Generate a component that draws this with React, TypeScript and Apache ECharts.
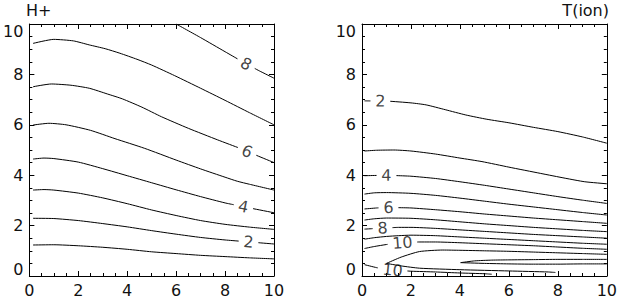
import React, { useEffect, useRef } from 'react';
import * as echarts from 'echarts';

type Pt = [number, number];

// ---------- H+ contour lines (levels 1..8) ----------
const hp1: Pt[] = [[0.15, 1.23], [1, 1.24], [2, 1.2], [3, 1.14], [4, 1.06], [5, 0.96], [6, 0.89], [7, 0.82], [8, 0.77], [9, 0.72], [10, 0.68]];
const hp2: Pt[] = [[0.15, 2.29], [1, 2.28], [2, 2.2], [3, 2.08], [4, 1.95], [5, 1.8], [6, 1.66], [7, 1.53], [8, 1.43], [9, 1.35], [10, 1.27]];
const hp3: Pt[] = [[0.15, 3.41], [0.6, 3.43], [1, 3.41], [2, 3.29], [3, 3.1], [4, 2.87], [5, 2.62], [6, 2.4], [7, 2.2], [8, 2.05], [9, 1.94], [10, 1.85]];
const hp4: Pt[] = [[0.15, 4.64], [0.6, 4.68], [1, 4.66], [2, 4.52], [3, 4.26], [4, 3.98], [5, 3.7], [6, 3.42], [7, 3.15], [8, 2.9], [9, 2.7], [10, 2.51]];
const hp5: Pt[] = [[0.15, 5.99], [0.8, 6.06], [1.5, 6.0], [2.5, 5.78], [3.5, 5.45], [4.7, 5.07], [6, 4.6], [7, 4.25], [8, 3.92], [8.5, 3.76], [9, 3.64], [10, 3.41]];
const hp6: Pt[] = [[0.15, 7.51], [0.9, 7.62], [1.7, 7.57], [2.45, 7.45], [3.2, 7.22], [3.8, 7.03], [4.6, 6.7], [5.4, 6.32], [6.5, 5.86], [7.7, 5.4], [8.6, 5.07], [9.3, 4.78], [10, 4.5]];
const hp7: Pt[] = [[0.15, 9.23], [1.0, 9.39], [1.8, 9.33], [2.45, 9.17], [3.1, 9.02], [3.7, 8.84], [4.4, 8.6], [5, 8.37], [5.94, 7.95], [7, 7.45], [8, 6.97], [9, 6.48], [10, 6.0]];
const hp8: Pt[] = [[6.0, 10], [7, 9.46], [8, 8.9], [8.86, 8.42], [9.4, 8.14], [10, 7.85]];
const hPlusLines: Pt[][] = [hp1, hp2, hp3, hp4, hp5, hp6, hp7, hp8];
// labels: which line, where along x, text
const hPlusLabelLine = [1, 3, 5, 7];
const hPlusLabelX = [8.96, 8.75, 8.9, 8.86];
const hPlusLabelText = ['2', '4', '6', '8'];

// ---------- T(ion) contour lines ----------
const ti2: Pt[] = [[0.1, 6.95], [1.07, 6.94], [2, 6.87], [2.62, 6.79], [3.4, 6.6], [4.24, 6.39], [5.1, 6.22], [6, 6.08], [7, 5.9], [8, 5.73], [9, 5.52], [10, 5.27]];
const ti3: Pt[] = [[0.1, 4.96], [0.6, 4.99], [1.3, 5.0], [2, 4.96], [3, 4.84], [4, 4.68], [4.9, 4.54], [6, 4.32], [7.3, 4.07], [8.3, 3.88], [9.1, 3.74], [10, 3.66]];
const ti4: Pt[] = [[0.1, 3.98], [1, 4.0], [2, 3.96], [3, 3.87], [4, 3.74], [5, 3.6], [6, 3.45], [7, 3.3], [8, 3.15], [9, 3.01], [10, 2.88]];
const ti5: Pt[] = [[0.1, 3.25], [0.5, 3.3], [1, 3.31], [2, 3.28], [3, 3.2], [4, 3.09], [5, 2.97], [6, 2.85], [7, 2.74], [8, 2.63], [9, 2.52], [10, 2.42]];
const ti6: Pt[] = [[0.1, 2.66], [0.6, 2.7], [1.1, 2.72], [2, 2.7], [3, 2.63], [4, 2.55], [5, 2.46], [6, 2.38], [7, 2.3], [8, 2.23], [9, 2.16], [10, 2.09]];
const ti7: Pt[] = [[0.1, 2.22], [0.5, 2.27], [1, 2.3], [2, 2.29], [3, 2.23], [4, 2.15], [5, 2.07], [6, 2.0], [7, 1.93], [8, 1.87], [9, 1.81], [10, 1.76]];
const ti8: Pt[] = [[0.1, 1.86], [0.8, 1.9], [1.5, 1.93], [2, 1.93], [3, 1.89], [4, 1.83], [5, 1.77], [6, 1.71], [7, 1.65], [8, 1.6], [9, 1.55], [10, 1.5]];
const ti9: Pt[] = [[0.1, 1.46], [0.5, 1.52], [1, 1.57], [1.5, 1.6], [2, 1.62], [3, 1.6], [4, 1.55], [5, 1.5], [6, 1.45], [7, 1.4], [8, 1.35], [9, 1.3], [10, 1.26]];
const ti10a: Pt[] = [[0.1, 1.09], [0.5, 1.17], [1, 1.25], [1.65, 1.32], [2.3, 1.35], [3, 1.35], [4, 1.32], [5, 1.28], [6, 1.24], [7, 1.2], [8, 1.15], [9, 1.1], [10, 1.06]];
const ti10b: Pt[] = [[0.1, 0.45], [0.6, 0.33], [1.2, 0.24], [2, 0.19], [3, 0.16], [4, 0.12], [5, 0.09], [5.3, 0.07]];
const ti11a: Pt[] = [[1.0, 0.5], [1.6, 0.75], [2.35, 0.97], [3.3, 1.03], [4, 1.02], [5, 1.0], [6, 0.98], [7, 0.95], [8, 0.92], [9, 0.89], [10, 0.86]];
const ti11b: Pt[] = [[1.0, 0.5], [1.6, 0.4], [2.35, 0.31], [4, 0.25], [6, 0.2], [7.6, 0.16], [7.9, 0.14]];
const ti12a: Pt[] = [[4.03, 0.53], [4.6, 0.6], [5.3, 0.63], [6, 0.64], [7, 0.65], [8, 0.66], [9, 0.66], [10, 0.66]];
const ti12b: Pt[] = [[4.03, 0.53], [5, 0.5], [6, 0.48], [7, 0.47], [8, 0.47], [9, 0.48], [10, 0.48]];
const tIonLines: Pt[][] = [ti2, ti3, ti4, ti5, ti6, ti7, ti8, ti9, ti10a, ti10b, ti11a, ti11b, ti12a, ti12b];
const tIonLabelLine = [0, 2, 4, 6, 8, 9];
const tIonLabelX = [0.75, 1.0, 1.08, 0.84, 1.65, 1.25];
const tIonLabelText = ['2', '4', '6', '8', '10', '10'];

// ---------- axes ----------
const axisTicks = [0, 2, 4, 6, 8, 10];
const FONT = "'DejaVu Sans', 'Liberation Sans', Arial, sans-serif";
const TEXT_COLOR = '#111';
const GRIDS = [
  { left: 26, top: 24, width: 248, height: 252 },
  { left: 362, top: 24, width: 247, height: 252 },
];

function interp(pts: Pt[], x: number): number {
  if (x <= pts[0][0]) return pts[0][1];
  for (let i = 0; i < pts.length - 1; i++) {
    const a = pts[i], b = pts[i + 1];
    if (x >= a[0] && x <= b[0]) {
      const t = (x - a[0]) / (b[0] - a[0] || 1);
      return a[1] + t * (b[1] - a[1]);
    }
  }
  return pts[pts.length - 1][1];
}

function splitLine(pts: Pt[], gaps: [number, number][]): Pt[][] {
  let segs: Pt[][] = [pts];
  for (const [a, b] of gaps) {
    const out: Pt[][] = [];
    for (const s of segs) {
      const x0 = s[0][0], x1 = s[s.length - 1][0];
      if (b <= x0 || a >= x1) { out.push(s); continue; }
      if (a > x0) {
        const left: Pt[] = s.filter((p) => p[0] < a);
        left.push([a, interp(s, a)]);
        out.push(left);
      }
      if (b < x1) {
        const right: Pt[] = [[b, interp(s, b)]];
        s.filter((p) => p[0] > b).forEach((p) => right.push(p));
        out.push(right);
      }
    }
    segs = out;
  }
  return segs;
}

function buildPlot(lines: Pt[][], labLine: number[], labX: number[], labText: string[], gi: number) {
  const g = GRIDS[gi];
  const kx = g.width / 10, ky = g.height / 10;
  const series: any[] = [];
  const labelData: any[] = [];
  const gapsPerLine: [number, number][][] = lines.map(() => []);
  labLine.forEach((li, k) => {
    const pts = lines[li];
    const x = labX[k];
    const y = interp(pts, x);
    const slope = (interp(pts, x + 0.3) - interp(pts, x - 0.3)) / 0.6;
    const rot = (Math.atan2(slope * ky, kx) * 180) / Math.PI;
    const halfPx = labText[k].length * 5 + 5;
    const half = halfPx / Math.sqrt(kx * kx + slope * ky * slope * ky);
    gapsPerLine[li].push([x - half, x + half]);
    labelData.push({ value: [x, y], label: { formatter: labText[k], rotate: rot } });
  });
  lines.forEach((pts, li) => {
    splitLine(pts, gapsPerLine[li]).forEach((seg) => {
      series.push({
        type: 'line',
        xAxisIndex: gi * 2,
        yAxisIndex: gi * 2,
        data: seg,
        showSymbol: false,
        symbol: 'none',
        smooth: 0.2,
        silent: true,
        lineStyle: { color: '#000', width: 1 },
      });
    });
  });
  series.push({
    type: 'scatter',
    xAxisIndex: gi * 2,
    yAxisIndex: gi * 2,
    data: labelData,
    symbolSize: 2,
    itemStyle: { color: 'rgba(0,0,0,0)' },
    silent: true,
    label: {
      show: true,
      position: 'inside',
      fontSize: 16,
      fontFamily: FONT,
      color: TEXT_COLOR,
      align: 'center',
      verticalAlign: 'middle',
    },
    z: 5,
  });
  return series;
}

function xAx(grid: number, pos: string, showLabel: boolean) {
  return {
    type: 'value',
    gridIndex: grid,
    position: pos,
    min: axisTicks[0],
    max: axisTicks[axisTicks.length - 1],
    interval: 2,
    axisLine: { show: true, onZero: false, lineStyle: { color: '#000', width: 1 } },
    axisTick: { show: true, inside: true, length: 5, lineStyle: { color: '#000', width: 1 } },
    minorTick: { show: true, splitNumber: 4, length: 3, lineStyle: { color: '#000', width: 1 } },
    splitLine: { show: false },
    minorSplitLine: { show: false },
    axisLabel: { show: showLabel, fontSize: 16, fontFamily: FONT, color: TEXT_COLOR, margin: 6 },
  };
}

function yAx(grid: number, pos: string, showLabel: boolean) {
  return {
    type: 'value',
    gridIndex: grid,
    position: pos,
    min: axisTicks[0],
    max: axisTicks[axisTicks.length - 1],
    interval: 2,
    axisLine: { show: true, onZero: false, lineStyle: { color: '#000', width: 1 } },
    axisTick: { show: true, inside: true, length: 5, lineStyle: { color: '#000', width: 1 } },
    minorTick: { show: true, splitNumber: 4, length: 3, lineStyle: { color: '#000', width: 1 } },
    splitLine: { show: false },
    minorSplitLine: { show: false },
    axisLabel: {
      show: showLabel,
      fontSize: 16,
      fontFamily: FONT,
      color: TEXT_COLOR,
      margin: 6,
      formatter: (v: number) => (v === 10 ? '{t|10}' : v === 0 ? '{b|0}' : String(v)),
      rich: {
        t: { fontSize: 16, fontFamily: FONT, color: TEXT_COLOR, padding: [14, 0, 0, 0] },
        b: { fontSize: 16, fontFamily: FONT, color: TEXT_COLOR, padding: [0, 0, 14, 0] },
      },
    },
  };
}

function buildOption() {
  return {
    animation: false,
    backgroundColor: '#fff',
    grid: GRIDS.map((g) => ({ ...g, containLabel: false })),
    xAxis: [xAx(0, 'bottom', true), xAx(0, 'top', false), xAx(1, 'bottom', true), xAx(1, 'top', false)],
    yAxis: [yAx(0, 'left', true), yAx(0, 'right', false), yAx(1, 'left', true), yAx(1, 'right', false)],
    graphic: [
      { type: 'text', left: 26, top: 2, style: { text: 'H+', fontSize: 16, fontFamily: FONT, fill: TEXT_COLOR } },
      { type: 'text', right: 11, top: 2, style: { text: 'T(ion)', fontSize: 16, fontFamily: FONT, fill: TEXT_COLOR } },
    ],
    series: [
      ...buildPlot(hPlusLines, hPlusLabelLine, hPlusLabelX, hPlusLabelText, 0),
      ...buildPlot(tIonLines, tIonLabelLine, tIonLabelX, tIonLabelText, 1),
    ],
  };
}

export default function App() {
  const ref = useRef<HTMLDivElement>(null);
  useEffect(() => {
    const chart = echarts.init(ref.current!, null, { renderer: 'svg' });
    chart.setOption(buildOption() as any);
    return () => chart.dispose();
  }, []);
  return (
    <div
      ref={ref}
      style={{ position: 'absolute', left: 0, top: 0, width: 620, height: 304, background: '#fff' }}
    />
  );
}
